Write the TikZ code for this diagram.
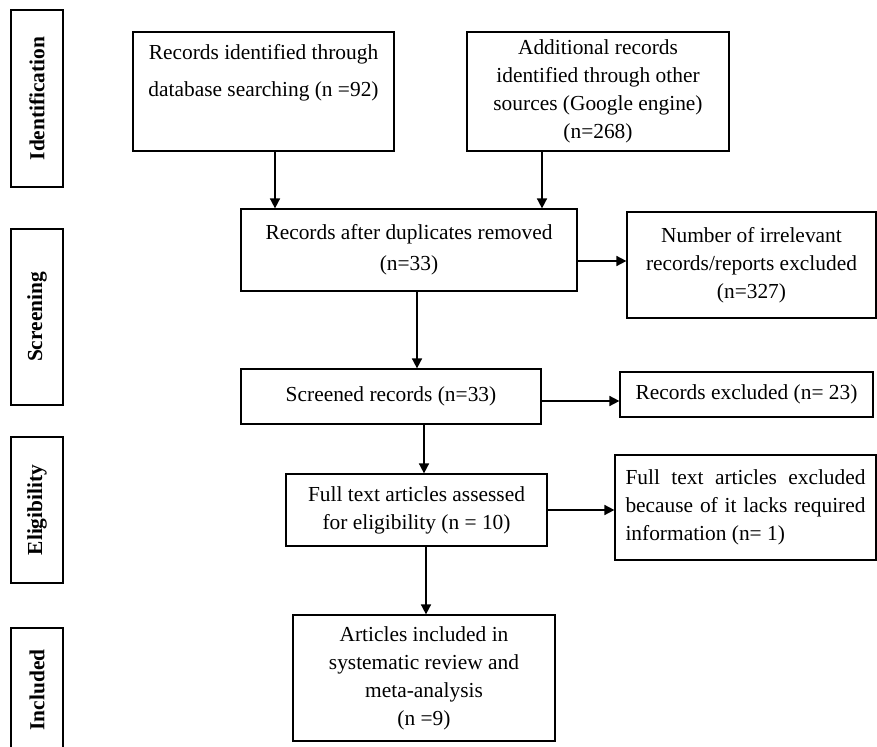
\documentclass[tikz,border=0pt]{standalone}
\usepackage{fontspec}
\setmainfont{Liberation Serif}
\usetikzlibrary{arrows.meta}
\tikzset{
	box/.style={draw, line width=0.6pt, align=center, inner sep=2pt,
		font=\fontsize{10.7}{14}\selectfont},
	stage/.style={draw, line width=0.6pt, rotate=90, minimum height=26pt, inner sep=0pt,
		font=\fontsize{10.7}{14}\selectfont\bfseries},
	arr/.style={line width=0.8pt, -{Triangle[length=5pt,width=5pt]}}
}
\begin{document}
\begin{tikzpicture}[x=0.5pt, y=-0.5pt]
	\useasboundingbox (0,0) rectangle (877,747);
	% stages on the left
	\node[stage, minimum width=88.5pt] (ident) at (37,98.5) {Identification};
	\node[stage, minimum width=88pt] (screen) at (37,317) {Screening};
	\node[stage, minimum width=73pt] (elig) at (37,510) {Eligibility};
	\node[stage, minimum width=62pt] (incl) at (37,690) {Included};
	% boxes
	\node[box, minimum width=130.5pt, minimum height=59.5pt, text height=30.5pt, text depth=25pt] (db) at (263.5,91.5) {Records identified through\\[4.5pt]database searching (n =92)};
	\node[box, minimum width=131pt, minimum height=59.5pt] (other) at (598,91.5) {Additional records\\identified through other\\sources (Google engine)\\(n=268)};
	\node[box, minimum width=168pt, minimum height=41pt] (dup) at (409,250) {Records after duplicates removed\\[1.5pt](n=33)};
	\node[box, minimum width=124.5pt, minimum height=53pt] (irr) at (751.5,265) {Number of irrelevant\\records/reports excluded\\(n=327)};
	\node[box, minimum width=150pt, minimum height=27.5pt] (scr) at (391,396.5) {Screened records (n=33)};
	\node[box, minimum width=126.5pt, minimum height=22.5pt] (exc) at (746.5,394.5) {Records excluded (n= 23)};
	\node[box, minimum width=130.5pt, minimum height=36pt] (ful) at (416.5,510) {Full text articles assessed\\for eligibility (n = 10)};
	\node[box, align=justify, text width=120pt, inner xsep=5.25pt, minimum height=52.5pt] (lack) at (745.5,507.5) {Full text articles excluded \linebreak because of it lacks required \linebreak information (n= 1)};
	\node[box, minimum width=131pt, minimum height=63pt] (inc) at (424,678) {Articles included in\\systematic review and\\meta-analysis\\(n =9)};
	% arrows
	\draw[arr] ([xshift=5.75pt]db.south) -- ([xshift=5.75pt]db.south |- dup.north);
	\draw[arr] ([xshift=-28pt]other.south) -- ([xshift=-28pt]other.south |- dup.north);
	\draw[arr] ([yshift=-5.5pt]dup.east) -- ([yshift=-5.5pt]dup.east -| irr.west);
	\draw[arr] ([xshift=4pt]dup.south) -- ([xshift=4pt]dup.south |- scr.north);
	\draw[arr] ([yshift=-2.25pt]scr.east) -- ([yshift=-2.25pt]scr.east -| exc.west);
	\draw[arr] ([xshift=16.5pt]scr.south) -- ([xshift=16.5pt]scr.south |- ful.north);
	\draw[arr] (ful.east) -- (ful.east -| lack.west);
	\draw[arr] ([xshift=4.75pt]ful.south) -- ([xshift=4.75pt]ful.south |- inc.north);
\end{tikzpicture}
\end{document}
